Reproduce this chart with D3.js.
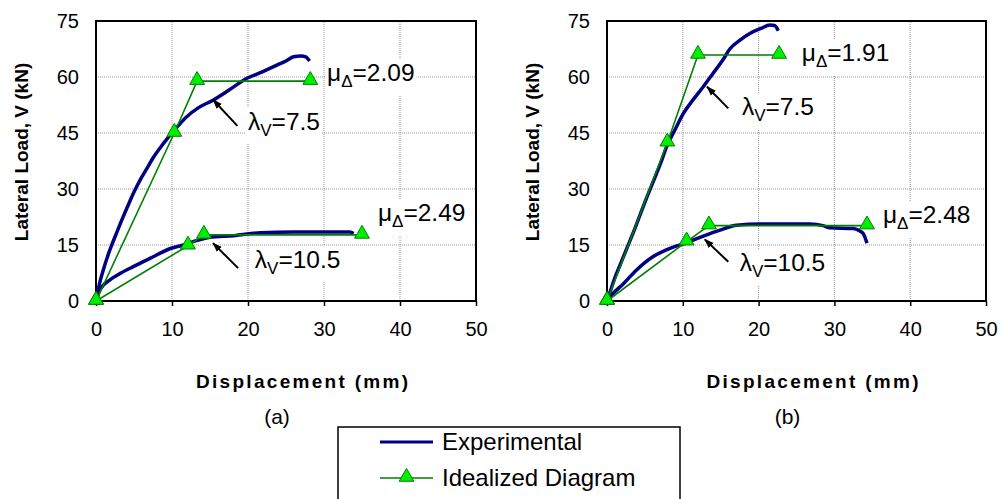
<!DOCTYPE html>
<html>
<head>
<meta charset="utf-8">
<style>
  body { margin: 0; background: #fff; }
  text { font-family: "Liberation Sans", Arial, sans-serif; }
</style>
</head>
<body>
<script src="https://cdn.jsdelivr.net/npm/d3@7/dist/d3.min.js"></script>
<script>
// ---- data (displacement mm, load kN) ----
var expA_upper = [[0,0],[0.5,5],[1.0,8.6],[1.5,11.8],[2.0,14.6],[2.7,18.2],[3.5,22.2],[4.3,26],[5.0,29.2],[5.8,32.4],[6.7,35.5],[7.5,38.3],[8.5,41.2],[9.3,43.3],[10,45],[11.9,49.3],[13.5,51.8],[15.4,53.8],[17.5,56.5],[19.8,59.6],[21.8,61.3],[23.8,63.2],[25,64.3],[26,65.4],[27,65.6],[27.6,65.4],[28.1,64.3]];
var expA_lower = [[0,0],[0.5,2.9],[1.0,4.3],[1.8,5.6],[3.2,7.4],[4.9,9.2],[7.1,11.4],[9.7,14.0],[11.5,15.0],[12.8,15.9],[15,17.1],[18.1,17.5],[21.6,18.3],[26,18.5],[33.4,18.5],[33.9,18.1]];
var expB_upper = [[0,0],[0.5,3],[1.0,6],[1.7,9.5],[2.6,14],[3.5,18.5],[4.35,23],[5.2,27.5],[6.1,32],[7,36.5],[7.9,41.5],[9,46],[10.1,50.3],[11.4,54],[12.7,57.4],[14,61],[15.3,64.6],[16.2,67.5],[17.5,69.8],[18.9,71.7],[20.3,73],[21.5,73.9],[22.1,73.8],[22.6,72.4]];
var expB_lower = [[0,0],[0.8,2],[2.2,4.7],[3.9,8.3],[6.1,11.9],[8.3,14.1],[10.5,15.6],[12.7,17.4],[14.9,19],[17.1,20.3],[20.2,20.6],[26.8,20.6],[28.5,20.2],[29.4,19.6],[32.5,19.4],[33.3,18.8],[33.8,18.1],[34.3,15.5]];

var idealA_upper = [[0,0],[10.3,45],[13.3,58.9],[28.2,58.9]];
var idealA_lower = [[0,0],[12.1,14.8],[14.2,17.7],[35.0,17.7]];
var idealB_upper = [[0,0],[7.96,42.4],[12.0,65.9],[22.7,65.9]];
var idealB_lower = [[0,0],[10.5,15.9],[13.45,20.2],[34.3,20.2]];

var xTicks = [0, 10, 20, 30, 40, 50];
var yTicks = [0, 15, 30, 45, 60, 75];

// annotations: [sym, sub, value, x, y] in data units, arrows: [x1,y1,x2,y2]
var ductA = [["μ","Δ","=2.09",30.4,61.1],["μ","Δ","=2.49",37.1,23.6]];
var ductB = [["μ","Δ","=1.91",25.7,66.4],["μ","Δ","=2.48",36.4,23]];
var ratioA = [["λ","V","=7.5",20.0,48],["λ","V","=10.5",20.9,11]];
var ratioB = [["λ","V","=7.5",17.8,52],["λ","V","=10.5",17.5,10.2]];
var arrowsA = [[18.6,46.9,15.4,53.9],[18.7,8.8,15.4,15.5]];
var arrowsB = [[16.0,51.6,13.2,57.4],[16.0,10.5,12.9,16.5]];

var legendNames = ["Experimental", "Idealized Diagram"];

var width = 1004, height = 499;
var navy = "#000080", green = "#008000", lime = "#00ee00";

var svg = d3.select("body").append("svg")
    .attr("width", width)
    .attr("height", height);

svg.append("defs").append("marker")
    .attr("id", "arr")
    .attr("viewBox", "0 0 10 10")
    .attr("refX", 9).attr("refY", 5)
    .attr("markerWidth", 5).attr("markerHeight", 5)
    .attr("orient", "auto")
  .append("path")
    .attr("d", "M0,1.5 L10,5 L0,8.5 Z")
    .attr("fill", "#000");

var tri = d3.symbol().type(d3.symbolTriangle).size(95);

function panel(left, right, exps, ideals, ducts, ratios, arrows, tag) {
  var x = d3.scaleLinear().domain([0, 50]).range([left, right]);
  var y = d3.scaleLinear().domain([0, 75]).range([301, 21]);
  var g = svg.append("g");

  // grid
  g.append("g").selectAll("line.v").data(xTicks.slice(1, -1)).enter().append("line")
      .attr("x1", d => x(d)).attr("x2", d => x(d))
      .attr("y1", y(0)).attr("y2", y(75))
      .attr("stroke", "#999").attr("stroke-dasharray", "1,1");
  g.append("g").selectAll("line.h").data(yTicks.slice(1, -1)).enter().append("line")
      .attr("y1", d => y(d)).attr("y2", d => y(d))
      .attr("x1", x(0)).attr("x2", x(50))
      .attr("stroke", "#999").attr("stroke-dasharray", "1,1");

  // axes
  var xa = g.append("g").attr("transform", "translate(0," + y(0) + ")")
      .call(d3.axisBottom(x).tickValues(xTicks).tickSize(5).tickPadding(16).tickSizeOuter(0));
  var ya = g.append("g").attr("transform", "translate(" + x(0) + ",0)")
      .call(d3.axisLeft(y).tickValues(yTicks).tickSize(0).tickPadding(17));
  [xa, ya].forEach(function(a) {
    a.select(".domain").remove();
    a.selectAll("line").attr("stroke", "#000").attr("stroke-width", 1.5);
    a.selectAll("text").attr("font-size", 20).attr("fill", "#000")
      .attr("font-family", "Liberation Sans, Arial, sans-serif");
  });

  g.append("rect")
      .attr("x", x(0)).attr("y", y(75))
      .attr("width", x(50) - x(0)).attr("height", y(0) - y(75))
      .attr("fill", "none").attr("stroke", "#000").attr("stroke-width", 2);

  // annotation labels with white boxes
  function label(d) {
    var t = g.append("text")
        .attr("x", x(d[3])).attr("y", y(d[4]) + 8)
        .attr("font-size", 24.5).attr("fill", "#000");
    t.append("tspan").text(d[0]);
    t.append("tspan").attr("font-size", 17).attr("dy", 6).text(d[1]);
    t.append("tspan").attr("dy", -6).text(d[2]);
    var b = t.node().getBBox();
    g.insert("rect", function() { return t.node(); })
        .attr("x", b.x - 2).attr("y", b.y).attr("width", b.width + 4).attr("height", b.height + 4)
        .attr("fill", "#fff");
  }
  ducts.forEach(label);
  ratios.forEach(label);

  // experimental curves
  var line = d3.line().x(d => x(d[0])).y(d => y(d[1])).curve(d3.curveMonotoneX);
  exps.forEach(function(s) {
    g.append("path").datum(s).attr("d", line)
        .attr("fill", "none").attr("stroke", navy).attr("stroke-width", 3.5)
        .attr("stroke-linejoin", "round");
  });

  // idealized diagrams
  var lin = d3.line().x(d => x(d[0])).y(d => y(d[1]));
  ideals.forEach(function(s) {
    g.append("path").datum(s).attr("d", lin)
        .attr("fill", "none").attr("stroke", green).attr("stroke-width", 1.6);
    g.selectAll(null).data(s).enter().append("path")
        .attr("d", tri)
        .attr("transform", d => "translate(" + x(d[0]) + "," + (y(d[1]) - 1) + ")")
        .attr("fill", lime).attr("stroke", green).attr("stroke-width", 1);
  });

  // arrows
  g.selectAll(null).data(arrows).enter().append("line")
      .attr("x1", d => x(d[0])).attr("y1", d => y(d[1]))
      .attr("x2", d => x(d[2])).attr("y2", d => y(d[3]))
      .attr("stroke", "#000").attr("stroke-width", 2)
      .attr("marker-end", "url(#arr)");

  // titles
  svg.append("text")
      .attr("x", (x(0) + x(50)) / 2 + 16).attr("y", 388)
      .attr("text-anchor", "middle").attr("font-size", 19).attr("font-weight", "bold")
      .attr("textLength", 212).attr("lengthAdjust", "spacing")
      .text("Displacement (mm)");
  svg.append("text")
      .attr("transform", "translate(" + (x(0) - 68) + "," + 152 + ") rotate(-90)")
      .attr("text-anchor", "middle").attr("font-size", 19).attr("font-weight", "bold")
      .text("Lateral Load, V (kN)");
  svg.append("text")
      .attr("x", (x(0) + x(50)) / 2 - 9).attr("y", 424)
      .attr("text-anchor", "middle").attr("font-size", 21)
      .text(tag);
}

panel(96, 476, [expA_upper, expA_lower], [idealA_upper, idealA_lower], ductA, ratioA, arrowsA, "(a)");
panel(607, 986, [expB_upper, expB_lower], [idealB_upper, idealB_lower], ductB, ratioB, arrowsB, "(b)");

// legend
var lg = svg.append("g");
lg.append("rect").attr("x", 338).attr("y", 427).attr("width", 342).attr("height", 90)
    .attr("fill", "#fff").attr("stroke", "#000").attr("stroke-width", 1.5);
var rows = lg.selectAll("g.row").data(legendNames).enter().append("g")
    .attr("transform", (d, i) => "translate(380," + (442 + i * 36) + ")");
rows.append("line").attr("x1", 0).attr("x2", 53)
    .attr("stroke", (d, i) => i ? green : navy)
    .attr("stroke-width", (d, i) => i ? 1.6 : 3);
rows.filter((d, i) => i === 1).append("path")
    .attr("d", tri).attr("transform", "translate(26.5,-1)")
    .attr("fill", lime).attr("stroke", green);
rows.append("text").attr("x", 62).attr("y", 0).attr("dy", "0.35em")
    .attr("font-size", 24).text(d => d);
</script>
</body>
</html>
